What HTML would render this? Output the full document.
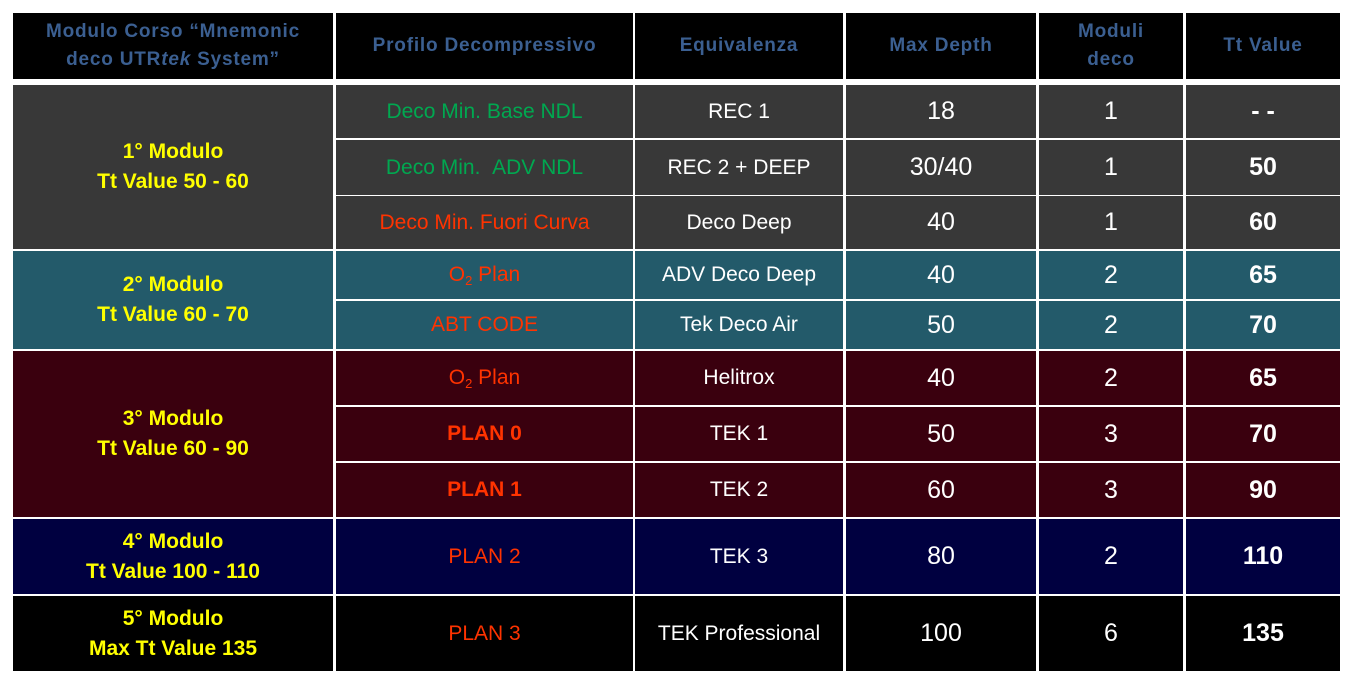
<!DOCTYPE html>
<html><head><meta charset="utf-8"><style>
body{margin:0;width:1353px;height:684px;background:#fff;position:relative;overflow:hidden;font-family:"Liberation Sans Narrow","Liberation Sans",sans-serif}
.c{position:absolute;display:flex;align-items:center;justify-content:center;text-align:center;color:#fff;box-sizing:border-box}
.h{background:#000;color:#3b5f91;font-family:"Liberation Sans",sans-serif;font-weight:bold;font-size:19px;line-height:28px;letter-spacing:0.8px}
.g{background:#383838}.t{background:#235a6a}.m{background:#3a000e}.n{background:#000040}.k{background:#000}
.y{color:#ffff00;font-weight:bold;font-size:21px;line-height:30px}
.gr{color:#00a850;font-size:21px}.rd{color:#ff3300;font-size:21px}.bd{font-weight:bold}
.e{font-size:21px}.v{font-size:25px}.b{font-size:25px;font-weight:bold}
sub{font-size:13px;vertical-align:-4px}
</style></head><body>
<div class="c h" style="left:13px;top:13px;width:320px;height:66px"><span>Modulo Corso “Mnemonic<br>deco UTR<i>tek</i> System”</span></div>
<div class="c h" style="left:336px;top:13px;width:297px;height:66px"><span>Profilo Decompressivo</span></div>
<div class="c h" style="left:635px;top:13px;width:208px;height:66px"><span>Equivalenza</span></div>
<div class="c h" style="left:846px;top:13px;width:190px;height:66px"><span>Max Depth</span></div>
<div class="c h" style="left:1039px;top:13px;width:144px;height:66px"><span>Moduli<br>deco</span></div>
<div class="c h" style="left:1186px;top:13px;width:154px;height:66px"><span>Tt Value</span></div>

<div class="c g y" style="left:13px;top:85px;width:320px;height:164px"><span>1° Modulo<br>Tt Value 50 - 60</span></div>
<div class="c t y" style="left:13px;top:251px;width:320px;height:98px"><span>2° Modulo<br>Tt Value 60 - 70</span></div>
<div class="c m y" style="left:13px;top:351px;width:320px;height:166px"><span>3° Modulo<br>Tt Value 60 - 90</span></div>
<div class="c n y" style="left:13px;top:519px;width:320px;height:75px"><span>4° Modulo<br>Tt Value 100 - 110</span></div>
<div class="c k y" style="left:13px;top:596px;width:320px;height:75px"><span>5° Modulo<br>Max Tt Value 135</span></div>

<div class="c g gr" style="left:336px;top:85px;width:297px;height:53px">Deco Min. Base NDL</div>
<div class="c g e" style="left:635px;top:85px;width:208px;height:53px">REC 1</div>
<div class="c g v" style="left:846px;top:85px;width:190px;height:53px">18</div>
<div class="c g v" style="left:1039px;top:85px;width:144px;height:53px">1</div>
<div class="c g b" style="left:1186px;top:85px;width:154px;height:53px">- -</div>

<div class="c g gr" style="left:336px;top:140px;width:297px;height:55px">Deco Min.&nbsp;&nbsp;ADV NDL</div>
<div class="c g e" style="left:635px;top:140px;width:208px;height:55px">REC 2 + DEEP</div>
<div class="c g v" style="left:846px;top:140px;width:190px;height:55px">30/40</div>
<div class="c g v" style="left:1039px;top:140px;width:144px;height:55px">1</div>
<div class="c g b" style="left:1186px;top:140px;width:154px;height:55px">50</div>

<div class="c g rd" style="left:336px;top:196px;width:297px;height:53px">Deco Min. Fuori Curva</div>
<div class="c g e" style="left:635px;top:196px;width:208px;height:53px">Deco Deep</div>
<div class="c g v" style="left:846px;top:196px;width:190px;height:53px">40</div>
<div class="c g v" style="left:1039px;top:196px;width:144px;height:53px">1</div>
<div class="c g b" style="left:1186px;top:196px;width:154px;height:53px">60</div>

<div class="c t rd" style="left:336px;top:251px;width:297px;height:48px"><span>O<sub>2</sub> Plan</span></div>
<div class="c t e" style="left:635px;top:251px;width:208px;height:48px">ADV Deco Deep</div>
<div class="c t v" style="left:846px;top:251px;width:190px;height:48px">40</div>
<div class="c t v" style="left:1039px;top:251px;width:144px;height:48px">2</div>
<div class="c t b" style="left:1186px;top:251px;width:154px;height:48px">65</div>

<div class="c t rd" style="left:336px;top:301px;width:297px;height:48px">ABT CODE</div>
<div class="c t e" style="left:635px;top:301px;width:208px;height:48px">Tek Deco Air</div>
<div class="c t v" style="left:846px;top:301px;width:190px;height:48px">50</div>
<div class="c t v" style="left:1039px;top:301px;width:144px;height:48px">2</div>
<div class="c t b" style="left:1186px;top:301px;width:154px;height:48px">70</div>

<div class="c m rd" style="left:336px;top:351px;width:297px;height:54px"><span>O<sub>2</sub> Plan</span></div>
<div class="c m e" style="left:635px;top:351px;width:208px;height:54px">Helitrox</div>
<div class="c m v" style="left:846px;top:351px;width:190px;height:54px">40</div>
<div class="c m v" style="left:1039px;top:351px;width:144px;height:54px">2</div>
<div class="c m b" style="left:1186px;top:351px;width:154px;height:54px">65</div>

<div class="c m rd bd" style="left:336px;top:407px;width:297px;height:54px">PLAN 0</div>
<div class="c m e" style="left:635px;top:407px;width:208px;height:54px">TEK 1</div>
<div class="c m v" style="left:846px;top:407px;width:190px;height:54px">50</div>
<div class="c m v" style="left:1039px;top:407px;width:144px;height:54px">3</div>
<div class="c m b" style="left:1186px;top:407px;width:154px;height:54px">70</div>

<div class="c m rd bd" style="left:336px;top:463px;width:297px;height:54px">PLAN 1</div>
<div class="c m e" style="left:635px;top:463px;width:208px;height:54px">TEK 2</div>
<div class="c m v" style="left:846px;top:463px;width:190px;height:54px">60</div>
<div class="c m v" style="left:1039px;top:463px;width:144px;height:54px">3</div>
<div class="c m b" style="left:1186px;top:463px;width:154px;height:54px">90</div>

<div class="c n rd" style="left:336px;top:519px;width:297px;height:75px">PLAN 2</div>
<div class="c n e" style="left:635px;top:519px;width:208px;height:75px">TEK 3</div>
<div class="c n v" style="left:846px;top:519px;width:190px;height:75px">80</div>
<div class="c n v" style="left:1039px;top:519px;width:144px;height:75px">2</div>
<div class="c n b" style="left:1186px;top:519px;width:154px;height:75px">110</div>

<div class="c k rd" style="left:336px;top:596px;width:297px;height:75px">PLAN 3</div>
<div class="c k e" style="left:635px;top:596px;width:208px;height:75px">TEK Professional</div>
<div class="c k v" style="left:846px;top:596px;width:190px;height:75px">100</div>
<div class="c k v" style="left:1039px;top:596px;width:144px;height:75px">6</div>
<div class="c k b" style="left:1186px;top:596px;width:154px;height:75px">135</div>
</body></html>
